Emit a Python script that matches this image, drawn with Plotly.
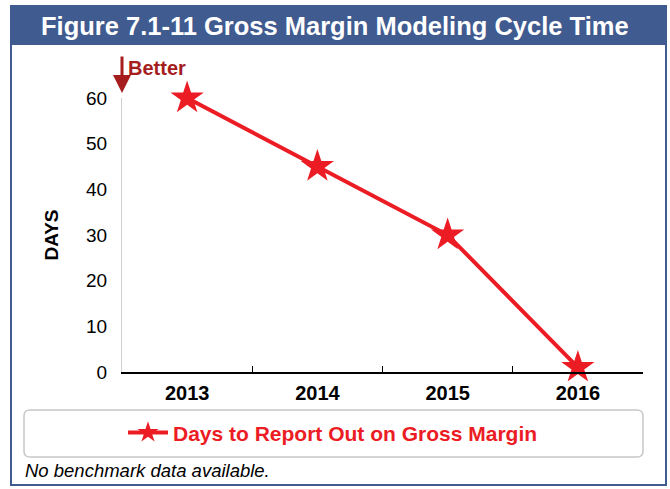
import plotly.graph_objects as go

years = ["2013", "2014", "2015", "2016"]
days = [60, 45, 30, 1]
series_name = "Days to Report Out on Gross Margin"
title_text = "Figure 7.1-11 Gross Margin Modeling Cycle Time"
y_ticks = [0, 10, 20, 30, 40, 50, 60]

RED = "#ec1c24"
DARK_RED = "#a51d1d"
BLUE = "#3f5b8f"
NARROW = "Liberation Sans Narrow, Arial Narrow, Arial, sans-serif"
SANS = "Liberation Sans, Arial, sans-serif"

fig = go.Figure()
fig.add_trace(go.Scatter(
    x=years, y=days, name=series_name, mode="lines+markers",
    line=dict(color=RED, width=4),
    marker=dict(symbol="star", size=25, color=RED, line=dict(width=0)),
    cliponaxis=False,
))

W, H = 670, 489
fig.update_layout(
    width=W, height=H,
    margin=dict(l=122, r=27, t=98, b=117, autoexpand=False),
    paper_bgcolor="white", plot_bgcolor="white",
    showlegend=True,
    legend=dict(x=0.405, xanchor="center", y=-0.222, yanchor="middle",
                orientation="h", bgcolor="rgba(0,0,0,0)",
                font=dict(family=NARROW, size=21, color=RED, weight="bold"),
                itemwidth=40),
    xaxis=dict(type="category", range=[-0.5, 3.5], showline=True, linecolor="black",
               linewidth=1.5, ticks="inside", ticklen=6, tickcolor="black",
               tickson="boundaries", showgrid=False, zeroline=False,
               tickfont=dict(family=NARROW, size=20, color="black", weight="bold"),
               ticklabelstandoff=2),
    yaxis=dict(range=[0, 60], tickvals=y_ticks, showline=True, linecolor="#d0d0d0",
               linewidth=1, showgrid=False, zeroline=False, ticks="",
               ticklabelstandoff=10,
               tickfont=dict(family=SANS, size=19, color="black"),
               title=dict(text="DAYS", font=dict(family=SANS, size=19, color="black", weight="bold"),
                          standoff=22)),
)

def px(x): return (x - 122) / 521
def py(y): return (372 - y) / 274

# outer frame
fig.add_shape(type="rect", xref="paper", yref="paper",
              x0=px(11), x1=px(666), y0=py(485), y1=py(6),
              line=dict(color=BLUE, width=2), fillcolor="rgba(0,0,0,0)", layer="below")
# title bar
fig.add_shape(type="rect", xref="paper", yref="paper",
              x0=px(11), x1=px(666), y0=py(45), y1=py(6),
              line=dict(color=BLUE, width=0), fillcolor=BLUE)
fig.add_annotation(xref="paper", yref="paper", x=px(335), y=py(26),
                   text=title_text, showarrow=False, xanchor="center", yanchor="middle",
                   font=dict(family=NARROW, size=25.5, color="white", weight="bold"))

# legend rounded box
x0, x1, y0, y1, r = 24, 643, 410, 457, 6
path = (f"M {px(x0+r)},{py(y0)} L {px(x1-r)},{py(y0)} Q {px(x1)},{py(y0)} {px(x1)},{py(y0+r)} "
        f"L {px(x1)},{py(y1-r)} Q {px(x1)},{py(y1)} {px(x1-r)},{py(y1)} "
        f"L {px(x0+r)},{py(y1)} Q {px(x0)},{py(y1)} {px(x0)},{py(y1-r)} "
        f"L {px(x0)},{py(y0+r)} Q {px(x0)},{py(y0)} {px(x0+r)},{py(y0)} Z")
fig.add_shape(type="path", xref="paper", yref="paper", path=path,
              line=dict(color="#c8c8c8", width=1.5), fillcolor="rgba(0,0,0,0)")

# footnote
fig.add_annotation(xref="paper", yref="paper", x=px(23), y=py(470),
                   text="No benchmark data available.", showarrow=False,
                   xanchor="left", yanchor="middle",
                   font=dict(family=SANS, size=18.5, color="black", style="italic"))

# Better arrow
fig.add_annotation(xref="x domain", yref="y domain", x=px(122), y=py(93),
                   ax=px(122), ay=py(55), axref="x domain", ayref="y domain",
                   text="", showarrow=True, arrowhead=2, arrowsize=1.2, arrowwidth=3,
                   arrowcolor=DARK_RED)
fig.add_annotation(xref="paper", yref="paper", x=px(126), y=py(68),
                   text="Better", showarrow=False, xanchor="left", yanchor="middle",
                   font=dict(family=NARROW, size=20, color=DARK_RED, weight="bold"))

fig.write_html("out.html", config={"displayModeBar": False},
               post_script="document.body.style.margin='0';")
